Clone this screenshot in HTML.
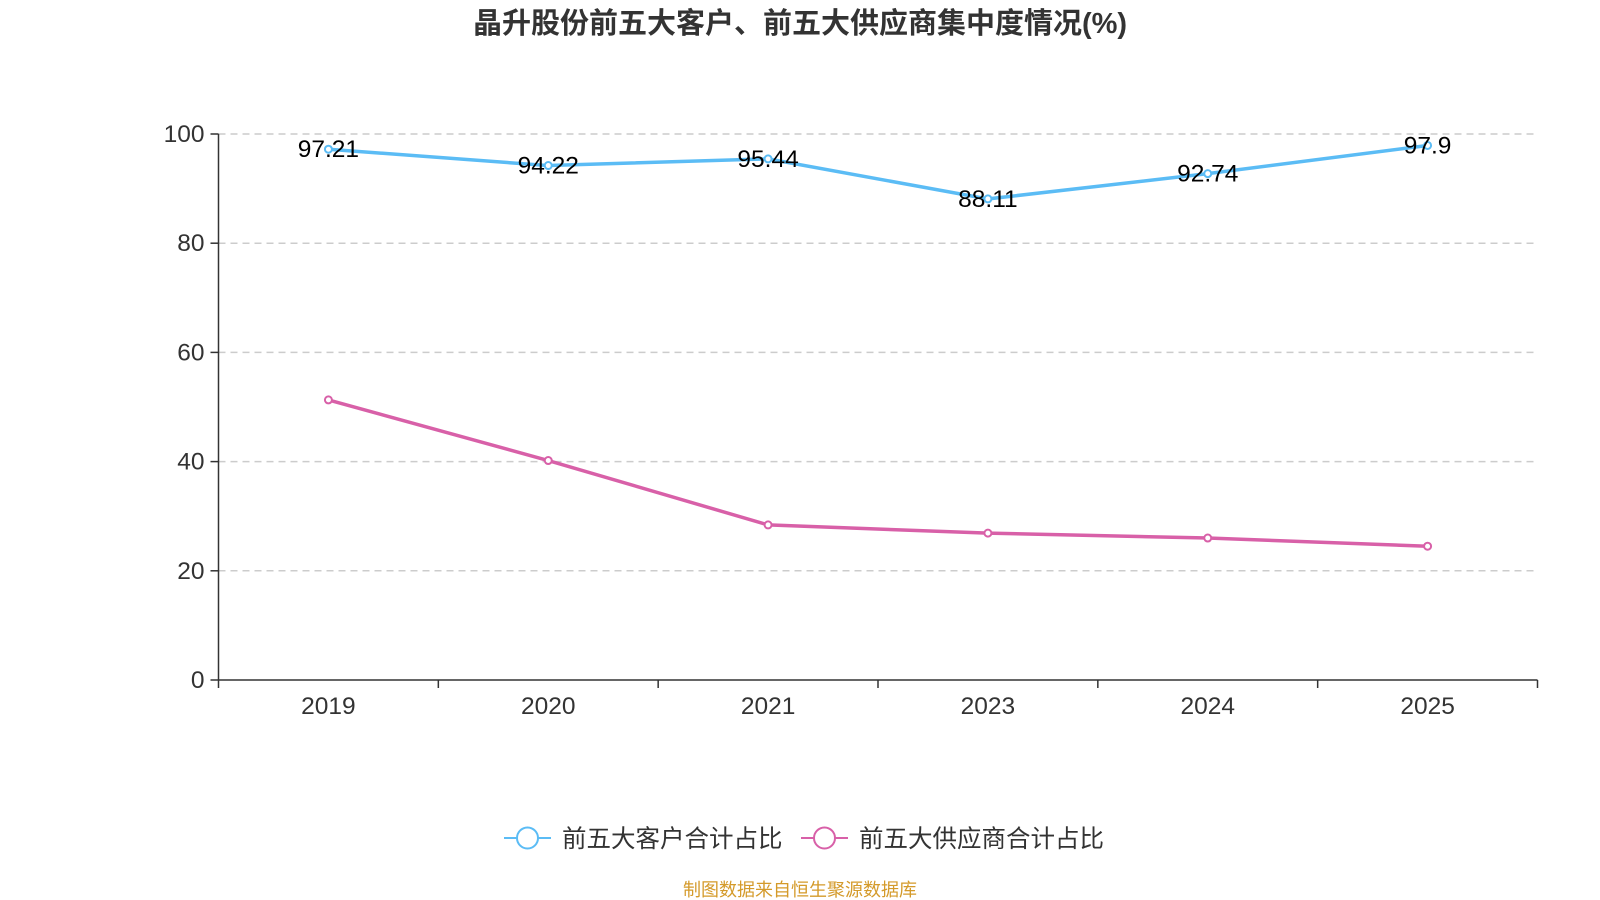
<!DOCTYPE html>
<html><head><meta charset="utf-8"><style>
html,body{margin:0;padding:0;background:#fff;width:1600px;height:900px;overflow:hidden}
text{font-family:"Liberation Sans","Noto Sans CJK SC",sans-serif}
</style></head><body>
<svg id="chart" width="1600" height="900" xmlns="http://www.w3.org/2000/svg">
<text x="800" y="33" text-anchor="middle" font-size="29" font-weight="bold" fill="#333">晶升股份前五大客户、前五大供应商集中度情况(%)</text>
<g id="grid"></g><g id="axes"></g><g id="series"></g>
<g>
<g>
<line x1="504" y1="838" x2="551" y2="838" stroke="#5bbcf5" stroke-width="2"/>
<circle cx="527.5" cy="838" r="10.5" fill="#fff" stroke="#5bbcf5" stroke-width="2"/>
<text x="562" y="847" font-size="24.5" fill="#333">前五大客户合计占比</text></g>
<g>
<line x1="801" y1="838" x2="848" y2="838" stroke="#d860a8" stroke-width="2"/>
<circle cx="824.5" cy="838" r="10.5" fill="#fff" stroke="#d860a8" stroke-width="2"/>
<text x="859" y="847" font-size="24.5" fill="#333">前五大供应商合计占比</text></g>
</g>
<text x="800" y="896" text-anchor="middle" font-size="18" fill="#d49a2a">制图数据来自恒生聚源数据库</text>
</svg>
<script>
const categories=["2019","2020","2021","2023","2024","2025"];
const customerValues=[97.21,94.22,95.44,88.11,92.74,97.9];
const supplierValues=[51.3,40.2,28.4,26.9,26.0,24.5];
const yTicks=[0,20,40,60,80,100];
const NS="http://www.w3.org/2000/svg";
const L=218.5,R=1537.5,T=134,B=680;
const bw=(R-L)/categories.length;
const x=i=>L+bw*(i+0.5);
const y=v=>B-(v/100)*(B-T);
function mk(tag,attrs,parent){const e=document.createElementNS(NS,tag);for(const k in attrs)e.setAttribute(k,attrs[k]);parent.appendChild(e);return e;}
const grid=document.getElementById('grid'),axes=document.getElementById('axes'),series=document.getElementById('series');
yTicks.forEach(t=>{
 if(t>0){const g=mk('line',{x1:L,x2:R,y1:y(t),y2:y(t),stroke:'#ccc','stroke-width':1.5,'stroke-dasharray':'7,5'},grid);
 
 }
 const tk=mk('line',{x1:L-8,x2:L,y1:y(t),y2:y(t),stroke:'#333','stroke-width':1.5},axes);
 
 
 const lb=mk('text',{x:L-14,y:y(t)+8,'text-anchor':'end','font-size':24.5,fill:'#333'},axes);lb.textContent=t;
 
 
});
const ya=mk('line',{x1:L,x2:L,y1:T,y2:B,stroke:'#333','stroke-width':1.5},axes);


const xa=mk('line',{x1:L,x2:R,y1:B,y2:B,stroke:'#333','stroke-width':1.5},axes);


for(let i=0;i<=categories.length;i++){const t=mk('line',{x1:L+bw*i,x2:L+bw*i,y1:B,y2:B+8,stroke:'#333','stroke-width':1.5},axes);
 
 }
categories.forEach((c,i)=>{const t=mk('text',{x:x(i),y:714,'text-anchor':'middle','font-size':24.5,fill:'#333'},axes);t.textContent=c;
 
 });
function drawSeries(vals,color,name,labels){
 const p=mk('polyline',{points:vals.map((v,i)=>x(i)+','+y(v)).join(' '),fill:'none',stroke:color,'stroke-width':3.5},series);
 
 
 vals.forEach((v,i)=>{const c=mk('circle',{cx:x(i),cy:y(v),r:3.5,fill:'#fff',stroke:color,'stroke-width':2},series);
  
  
  if(labels){const t=mk('text',{x:x(i),y:y(v)+8,'text-anchor':'middle','font-size':24.5,fill:'#000'},series);t.textContent=v;
  
  }
 });
}
drawSeries(supplierValues,'#d860a8','supplier',false);
drawSeries(customerValues,'#5bbcf5','customer',true);
</script>
</body></html>
